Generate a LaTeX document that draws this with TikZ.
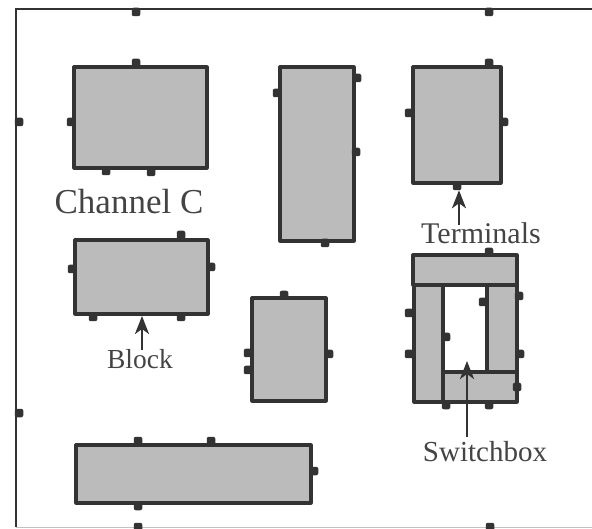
\documentclass[tikz,border=0pt]{standalone}
\usepackage{fontspec}
\setmainfont{Liberation Serif}
\usetikzlibrary{arrows.meta}
\definecolor{ink}{HTML}{333333}
\definecolor{stipple}{HTML}{BBBBBB}
\definecolor{labink}{HTML}{444444}
\tikzset{
  x=1pt,y=-1pt,
  blk/.style={draw=ink,fill=stipple,line width=3.2pt,line join=round,inner sep=0pt,outer sep=0pt},
  frameline/.style={draw=ink,line width=2.6pt},
  pinbox/.style={fill=ink,rounded corners=2pt,inner sep=0pt,minimum width=8.5pt,minimum height=8.5pt,outer sep=0pt},
  lab/.style={text=labink,inner sep=0pt,anchor=base},
  callout/.style={draw=ink,line width=2.6pt,-{Stealth[length=18pt,width=14pt,inset=5pt]}}
}
\newcommand{\blockat}[5]{\node[blk,minimum width={(#4)-(#2)},minimum height={(#5)-(#3)},anchor=north west] (#1) at (#2,#3) {};}
\begin{document}
\begin{tikzpicture}
\useasboundingbox (0,0) rectangle (592,529);
\fill[white] (0,0) rectangle (592,529);
% outer boundary
\coordinate (oa) at (16,527);
\coordinate (ob) at (16,9);
\coordinate (oc) at (592,9);
\coordinate (od) at (592,527);
\draw[frameline] (oa) -- (ob) -- (oc);
\draw[draw=ink,line width=1pt,opacity=.3] (oa) -- (od);
% blocks
\blockat{ba}{74}{67}{207}{168}
\blockat{bb}{280}{67}{354}{241}
\blockat{bc}{413}{67}{501}{183}
\blockat{bd}{75}{240}{208}{314}
\blockat{be}{252}{298}{326}{401}
\blockat{bf}{76}{445}{311}{503}
% switchbox
\blockat{sl}{414}{285}{443}{402}
\blockat{sr}{487}{285}{517}{372}
\blockat{st}{413}{255}{517}{285}
\blockat{sb}{443}{372}{517}{402}
% pins
\foreach \n/\x/\y in {
  o1/136/12,o2/489/12,o3/19/122,o4/19/413,o5/138/527,o6/490/527,
  a1/136/63,a2/71/122,a3/106/171,a4/151/172,
  b1/357/78,b2/277/93,b3/356/152,b4/325/243,
  c1/489/63,c2/409/113,c3/504/122,c4/457/186,
  d1/181/235,d2/72/269,d3/211/267,d4/93/317,d5/181/317,
  e1/284/295,e2/248/353,e3/248/370,e4/329/354,
  f1/138/441,f2/211/441,f3/314/471,f4/138/506,
  s1/489/252,s2/519/296,s3/483/302,s4/409/313,s5/446/337,
  s6/409/354,s7/520/354,s8/517/387,s9/446/405,s10/489/405}
  {\node[pinbox] (\n) at (\x,\y) {};}
% labels
\node[lab,font=\fontsize{35}{35}\selectfont] (chan) at (129,214) {Channel C};
\node[lab,font=\fontsize{30}{30}\selectfont] (term) at (481,244) {Terminals};
\node[lab,font=\fontsize{27.5}{28}\selectfont] (blabel) at (140,369) {Block};
\node[lab,font=\fontsize{29}{29}\selectfont] (swlabel) at (485,461) {Switchbox};
% callouts
\coordinate (tipb) at (142,316);
\coordinate (tips) at (467,361);
\draw[callout] (term.north -| c4) ++(2,2) -- ([xshift=2pt]c4.south);
\draw[callout] (blabel.north -| tipb) -- (tipb);
\draw[callout] (swlabel.north -| tips) ++(0,-4) -- (tips);
\end{tikzpicture}
\end{document}
